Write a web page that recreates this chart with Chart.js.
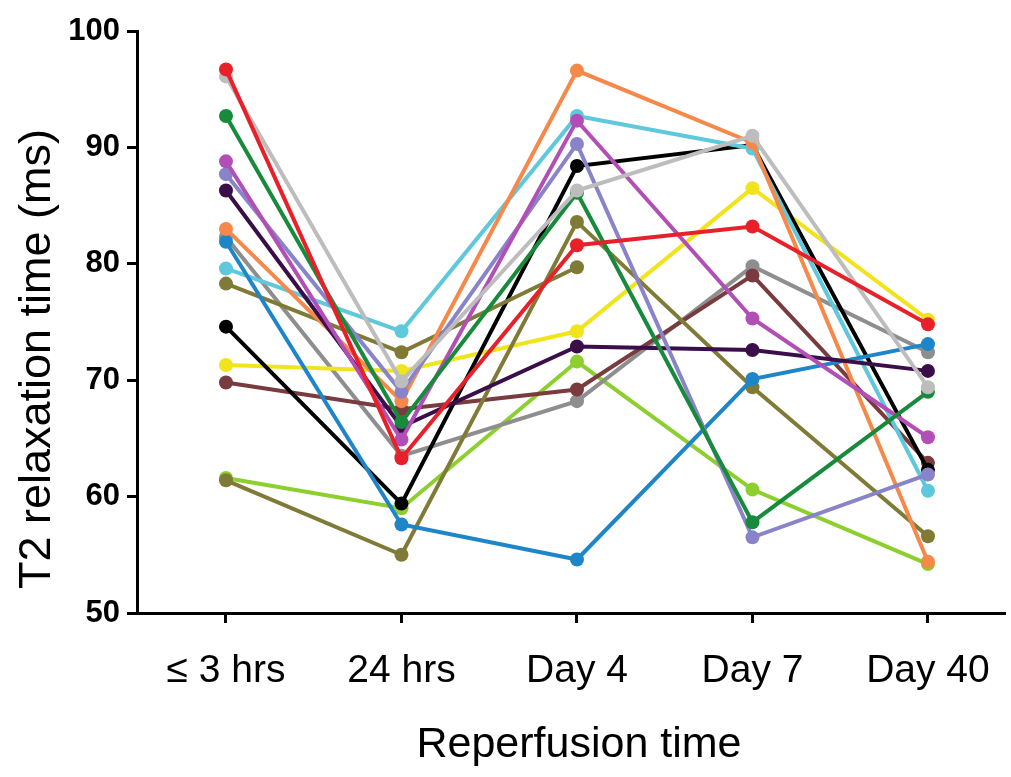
<!DOCTYPE html>
<html>
<head>
<meta charset="utf-8">
<title>T2 relaxation time by reperfusion time</title>
<script src="https://cdn.jsdelivr.net/npm/chart.js@4/dist/chart.umd.min.js"></script>
<style>
  html, body { margin: 0; padding: 0; background: #ffffff; }
  #wrap { width: 1011px; height: 777px; position: relative; }
  canvas { display: block; }
</style>
</head>
<body>
<div id="wrap"><canvas id="chart" width="1011" height="777"></canvas></div>
<script>
// Time points after reperfusion
const categories = ['≤ 3 hrs', '24 hrs', 'Day 4', 'Day 7', 'Day 40'];
const yTicks = [50, 60, 70, 80, 90, 100];
const xTitle = 'Reperfusion time';
const yTitle = 'T2 relaxation time (ms)';

// T2 relaxation time (ms) per subject, one value per time point
const subjRed        = [96.7, 63.3, 81.6, 83.2, 74.8];
const subjSilver     = [96.1, 69.9, 86.3, 91.0, 69.4];
const subjGreen      = [92.7, 66.4, 86.1, 57.8, 69.0];
const subjOrchid     = [88.8, 64.9, 92.3, 75.3, 65.1];
const subjLavender   = [87.7, 69.0, 90.3, 56.5, 61.9];
const subjEggplant   = [86.3, 66.0, 72.9, 72.6, 70.8];
const subjOrange     = [83.0, 68.2, 96.6, 90.4, 54.4];
const subjBlue       = [81.9, 57.6, 54.6, 70.1, 73.1];
const subjCyan       = [79.6, 74.2, 92.7, 89.9, 60.5];
const subjOliveA     = [78.3, 72.4, 79.7, null, null];
const subjOliveB     = [61.4, 55.0, 83.6, 69.4, 56.6];
const subjBlack      = [74.6, 59.4, 88.4, 90.2, 62.3];
const subjYellow     = [71.3, 70.8, 74.2, 86.5, 75.2];
const subjBrown      = [69.8, 67.5, 69.2, 79.0, 62.9];
const subjGray       = [82.3, 63.5, 68.2, 79.8, 72.4];
const subjLightGreen = [61.6, 59.0, 71.6, 60.6, 54.2];

// First entry is drawn on top
const seriesList = [
  { values: subjRed,        color: '#e8202a' },
  { values: subjSilver,     color: '#bdbdbd' },
  { values: subjGreen,      color: '#188a3c' },
  { values: subjOrchid,     color: '#b24fb6' },
  { values: subjLavender,   color: '#8983c9' },
  { values: subjEggplant,   color: '#3b0e4a' },
  { values: subjOrange,     color: '#f6884a' },
  { values: subjBlue,       color: '#1e86c8' },
  { values: subjCyan,       color: '#5ec8dd' },
  { values: subjOliveA,     color: '#7f7b36' },
  { values: subjOliveB,     color: '#7f7b36' },
  { values: subjBlack,      color: '#000000' },
  { values: subjYellow,     color: '#f1e41c' },
  { values: subjBrown,      color: '#7a3b3f' },
  { values: subjGray,       color: '#8e8e8e' },
  { values: subjLightGreen, color: '#8ccf2f' }
];

const FONT = '"Liberation Sans", Arial, Helvetica, sans-serif';

const datasets = seriesList.map(s => ({
  data: s.values.map((v, i) => ({ x: i, y: v })),
  borderColor: s.color,
  backgroundColor: s.color,
  pointBackgroundColor: s.color,
  pointBorderColor: s.color,
  pointBorderWidth: 0,
  pointRadius: 7,
  borderWidth: 4,
  tension: 0,
  spanGaps: false,
  fill: false
}));

// Axis titles placed at fixed spots beside the axes
const axisTitles = {
  id: 'axisTitles',
  afterDraw(chart) {
    const ctx = chart.ctx;
    ctx.save();
    ctx.fillStyle = '#000';
    ctx.textAlign = 'center';
    ctx.textBaseline = 'middle';
    ctx.font = '43px ' + FONT;
    ctx.fillText(xTitle, 579, 745);
    ctx.translate(38, 359);
    ctx.rotate(-Math.PI / 2);
    ctx.font = '45px ' + FONT;
    ctx.fillText(yTitle, 0, 0);
    ctx.restore();
  }
};

new Chart(document.getElementById('chart'), {
  type: 'line',
  data: { datasets },
  plugins: [axisTitles],
  options: {
    responsive: false,
    animation: false,
    events: [],
    layout: { autoPadding: false, padding: { top: 31, right: 6, left: 0, bottom: 0 } },
    plugins: { legend: { display: false }, tooltip: { enabled: false } },
    scales: {
      x: {
        type: 'linear',
        min: -0.507,
        max: 4.439,
        afterBuildTicks: s => { s.ticks = categories.map((c, i) => ({ value: i })); },
        afterFit: s => { s.height = 164; s.paddingLeft = 0; s.paddingRight = 0; },
        ticks: {
          callback: v => categories[v],
          color: '#000',
          font: { family: FONT, size: 39 },
          padding: 25,
          maxRotation: 0,
          autoSkip: false
        },
        grid: { display: true, drawOnChartArea: false, drawTicks: true, tickLength: 10, tickWidth: 3, tickColor: '#000' },
        border: { display: true, color: '#000', width: 3 }
      },
      y: {
        type: 'linear',
        min: 50,
        max: 100,
        afterBuildTicks: s => { s.ticks = yTicks.map(v => ({ value: v })); },
        afterFit: s => { s.width = 137; },
        ticks: {
          color: '#000',
          font: { family: FONT, size: 31, weight: 'bold' },
          padding: 7
        },
        grid: { display: true, drawOnChartArea: false, drawTicks: true, tickLength: 10, tickWidth: 3, tickColor: '#000' },
        border: { display: true, color: '#000', width: 3 }
      }
    }
  }
});
</script>
</body>
</html>
